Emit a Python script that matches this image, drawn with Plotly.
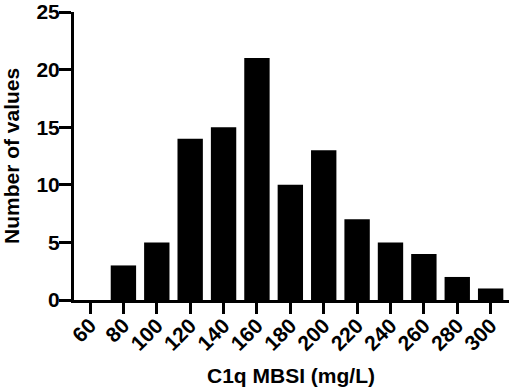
import plotly.graph_objects as go

bins = [60, 80, 100, 120, 140, 160, 180, 200, 220, 240, 260, 280, 300]
counts = [0, 3, 5, 14, 15, 21, 10, 13, 7, 5, 4, 2, 1]
y_ticks = [0, 5, 10, 15, 20, 25]

FONT = "Liberation Sans"
L, R, T, B = 74, 1, 12, 87
W, H = 510, 387
PW, PH = W - L - R, H - T - B

fig = go.Figure(go.Bar(x=bins, y=counts, marker=dict(color="black", line=dict(width=0))))

fig.update_layout(
    width=W, height=H,
    margin=dict(l=L, r=R, t=T, b=B),
    paper_bgcolor="white", plot_bgcolor="white",
    bargap=0.24,
    showlegend=False,
    font=dict(family=FONT, color="black"),
)
fig.update_xaxes(
    range=[50.4, 311], tickvals=bins, ticktext=[f"<b>{b}</b>" for b in bins],
    tickangle=-45, tickfont=dict(size=21, family=FONT),
    ticks="outside", ticklen=11, tickwidth=3, tickcolor="black",
    ticklabelstandoff=-9, ticklabelshift=0,
    showline=True, linewidth=3, linecolor="black",
    showgrid=False, zeroline=False, automargin=False,
)
fig.update_yaxes(
    range=[0, 25], tickvals=y_ticks, ticktext=[f"<b>{v}</b>" for v in y_ticks],
    tickfont=dict(size=21, family=FONT),
    ticks="outside", ticklen=12, tickwidth=3, tickcolor="black",
    ticklabelstandoff=-5,
    showline=True, linewidth=3, linecolor="black",
    showgrid=False, zeroline=False, automargin=False,
)
fig.add_annotation(
    text="<b>C1q MBSI (mg/L)</b>", xref="paper", yref="paper",
    x=(291 - L) / PW, y=(T + PH - 375) / PH, xanchor="center", yanchor="middle",
    showarrow=False, font=dict(size=21, family=FONT, color="black"),
)
fig.add_annotation(
    text="<b>Number of values</b>", xref="paper", yref="paper",
    x=(11 - L) / PW, y=0.5, xanchor="center", yanchor="middle", textangle=-90,
    showarrow=False, font=dict(size=21, family=FONT, color="black"),
)

fig.write_html(
    "out.html",
    config={"displayModeBar": False},
    post_script="document.body.style.margin='0';document.body.style.overflow='hidden';",
)
